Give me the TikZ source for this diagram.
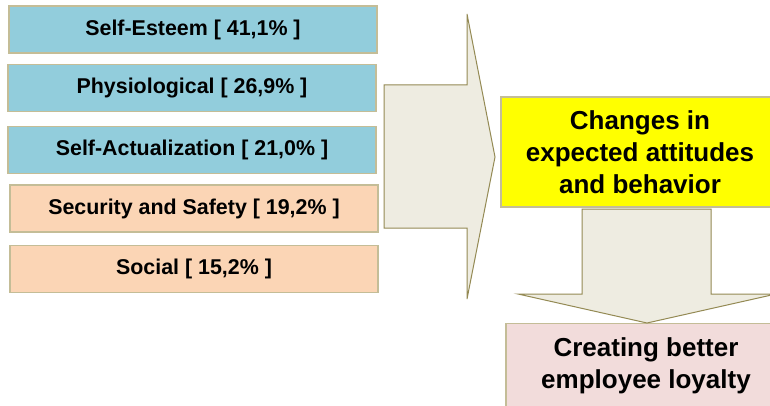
\documentclass[tikz,border=0pt]{standalone}
\usepackage{fontspec}
\setmainfont{Liberation Sans}
\definecolor{cblue}{RGB}{146,205,220}
\definecolor{cpeach}{RGB}{251,213,181}
\definecolor{cyel}{RGB}{255,255,0}
\definecolor{cpink}{RGB}{242,220,219}
\definecolor{carrowfill}{RGB}{238,236,225}
\definecolor{carrowline}{RGB}{148,138,84}
\definecolor{cborder}{RGB}{196,189,151}
\tikzset{
  leftbox/.style={draw=cborder, line width=1.2pt, minimum width=368pt, minimum height=47pt,
    inner sep=0pt, font=\fontsize{21.4}{25}\selectfont\bfseries},
  rightbox/.style={draw=cborder, line width=1.2pt, inner sep=0pt, align=center,
    font=\fontsize{26}{32}\selectfont\bfseries},
  blockarrow/.style={fill=carrowfill, draw=carrowline, line width=1pt, line join=miter}
}
\begin{document}
\begin{tikzpicture}[x=1pt,y=-1pt]
\useasboundingbox (0,0) rectangle (770,406);
\clip (0,0) rectangle (770,406);
\fill[white] (0,0) rectangle (770,406);
% left boxes
\node[leftbox, fill=cblue] (se) at (193,29.5) {Self-Esteem [ 41,1\% ]};
\node[leftbox, fill=cblue] (ph) at (192,88) {Physiological [ 26,9\% ]};
\node[leftbox, fill=cblue] (sa) at (192,150) {Self-Actualization [ 21,0\% ]};
\node[leftbox, fill=cpeach] (ss) at (194,208.5) {Security and Safety [ 19,2\% ]};
\node[leftbox, fill=cpeach] (so) at (194,269) {Social [ 15,2\% ]};
% big right arrow
\coordinate (ra1) at (384,85);
\coordinate (ra2) at (467,85);
\coordinate (ra3) at (467,14);
\coordinate (ra4) at (495,157);
\coordinate (ra5) at (467,299);
\coordinate (ra6) at (467,228);
\coordinate (ra7) at (384,228);
\path[blockarrow] (ra1) -- (ra2) -- (ra3) -- (ra4) -- (ra5) -- (ra6) -- (ra7) -- cycle;
% yellow box
\node[rightbox, fill=cyel, minimum width=278pt, minimum height=110pt] (ch) at (640,152)
  {Changes in\\expected attitudes\\and behavior};
% pink box
\node[rightbox, fill=cpink, minimum width=280pt, minimum height=110pt, anchor=north] (cr) at (646,323)
  {};
\node[font=\fontsize{26}{32}\selectfont\bfseries, align=center, anchor=base] (crt) at (646,388)
  {Creating better\\employee loyalty};
% down arrow
\coordinate (da1) at (582,209);
\coordinate (da2) at (711,209);
\coordinate (da3) at (711,294);
\coordinate (da4) at (776,294);
\coordinate (da5) at (647,323);
\coordinate (da6) at (518,294);
\coordinate (da7) at (582,294);
\path[blockarrow] (da1) -- (da2) -- (da3) -- (da4) -- (da5) -- (da6) -- (da7) -- cycle;
\end{tikzpicture}
\end{document}
